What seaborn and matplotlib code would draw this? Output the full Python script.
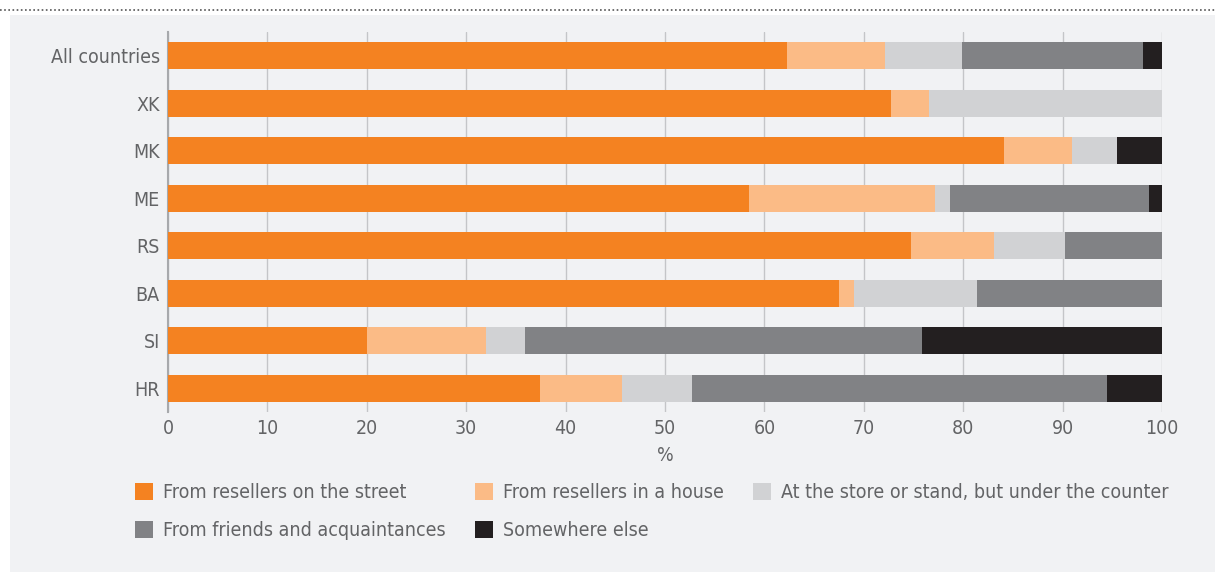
import pandas as pd
import matplotlib
matplotlib.use('Agg')
import matplotlib.pyplot as plt
from matplotlib.patches import Patch, Rectangle
from matplotlib.lines import Line2D
import seaborn as sns

# dados (%)
paises = ['All countries', 'XK', 'MK', 'ME', 'RS', 'BA', 'SI', 'HR']
series = ['From resellers on the street', 'From resellers in a house',
          'At the store or stand, but under the counter',
          'From friends and acquaintances', 'Somewhere else']
rua = [62.3, 72.7, 84.1, 58.5, 74.7, 67.5, 20.0, 37.4]
casa = [9.8, 3.9, 6.8, 18.7, 8.4, 1.5, 12.0, 8.3]
loja = [7.8, 23.4, 4.6, 1.5, 7.1, 12.4, 3.9, 7.0]
amigos = [18.2, 0.0, 0.0, 20.0, 9.8, 18.6, 40.0, 41.8]
outro = [1.9, 0.0, 4.5, 1.3, 0.0, 0.0, 24.1, 5.5]
cores = ['#F48221', '#FBBB86', '#D1D2D4', '#818285', '#231F20']

sns.set_style('white')
plt.rcParams['font.family'] = ['DejaVu Sans']
plt.rcParams['font.stretch'] = 'condensed'
cor_texto = '#636466'
fundo = '#F1F2F4'

df = pd.DataFrame({'pais': paises, 'rua': rua, 'casa': casa, 'loja': loja,
                   'amigos': amigos, 'outro': outro})
colunas = ['rua', 'casa', 'loja', 'amigos', 'outro']
acumulado = df[colunas].cumsum(axis=1)
acumulado['pais'] = df['pais']

fig = plt.figure(figsize=(12.15, 5.72), dpi=100, facecolor='white')
# painel cinza e linha pontilhada no topo
fig.patches.append(Rectangle((10 / 1215, 0), 1 - 10 / 1215, 1 - 15 / 572,
                             transform=fig.transFigure, facecolor=fundo,
                             edgecolor='none', zorder=-10))
fig.lines.append(Line2D([0, 1], [1 - 10 / 572, 1 - 10 / 572], transform=fig.transFigure,
                        color='#555555', linestyle=(0, (1, 1.5)), linewidth=1.2, zorder=-10))

ax = fig.add_axes([168 / 1215, 1 - 412 / 572, (1162 - 168) / 1215, (412 - 32) / 572])
ax.set_facecolor(fundo)
ax.set_zorder(5)

# barras empilhadas: desenhar do total para a primeira série
for i in range(len(colunas) - 1, -1, -1):
    sns.barplot(data=acumulado, x=colunas[i], y='pais', order=paises, orient='h',
                color=cores[i], width=0.57, saturation=1, linewidth=0, ax=ax, zorder=3)

ax.set_xlim(0, 100)
ax.set_xticks(range(0, 101, 10))
ax.grid(axis='x', color='#C4C5C8', linewidth=1, zorder=0)
ax.grid(axis='y', visible=False)
ax.set_axisbelow(True)
for lado in ['top', 'right', 'bottom']:
    ax.spines[lado].set_visible(False)
ax.spines['left'].set_color('#A7A9AC')
ax.spines['left'].set_linewidth(1.5)
ax.set_yticks([i - 0.5 for i in range(len(paises) + 1)], minor=True)
ax.tick_params(axis='y', which='minor', length=3.5, color='#A7A9AC', width=1.5)
ax.tick_params(axis='y', which='major', length=0, pad=6, labelsize=14, labelcolor=cor_texto)
ax.tick_params(axis='x', length=0, pad=5, labelsize=14, labelcolor=cor_texto)
ax.set_ylabel('')
ax.set_xlabel('%', fontsize=14, color=cor_texto, labelpad=6)

# legenda em linhas (ordem das colunas do matplotlib)
handles = [Patch(facecolor=c, edgecolor='none') for c in cores]
ordem = [0, 3, 1, 4, 2]
fig.legend([handles[i] for i in ordem], [series[i] for i in ordem], ncol=3,
           loc='upper left', bbox_to_anchor=(127 / 1215, 1 - 475 / 572), frameon=False,
           fontsize=14, labelcolor=cor_texto, handlelength=0.95, handleheight=0.95,
           handletextpad=0.5, columnspacing=1.5, labelspacing=1.0, borderaxespad=0)

plt.savefig('out.png', dpi=100, facecolor='white')
